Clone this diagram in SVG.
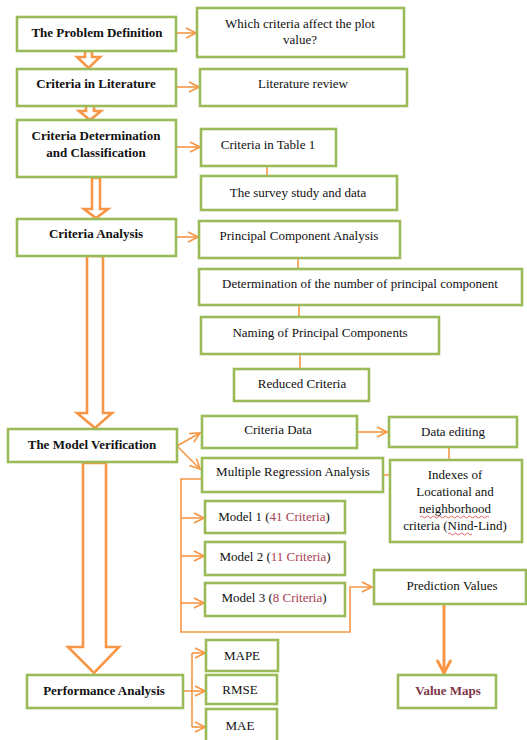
<svg xmlns="http://www.w3.org/2000/svg" width="527" height="740" viewBox="0 0 527 740">
<style>
.box{fill:#fff;stroke:#9bbb59;stroke-width:2.6}
.t{font-family:"Liberation Serif","Times New Roman",serif;font-size:13px;fill:#111;text-anchor:middle}
.b{font-weight:bold}
.red{fill:#a8434f}
.ln{fill:none;stroke:#f79646;stroke-width:1.6}
.blk{fill:#fff;stroke:#f79646;stroke-width:2.6;stroke-linejoin:miter}
</style>
<defs>
<marker id="ah" viewBox="0 0 12 12" markerWidth="12" markerHeight="12" markerUnits="userSpaceOnUse" refX="11" refY="6" orient="auto">
<path d="M1,1 L11,6 L1,11" fill="none" stroke="#f79646" stroke-width="1.6"/>
</marker>
<marker id="ahb" viewBox="0 0 16 16" markerWidth="16" markerHeight="16" markerUnits="userSpaceOnUse" refX="14" refY="8" orient="auto">
<path d="M1,1 L14,8 L1,15" fill="none" stroke="#f79646" stroke-width="3"/>
</marker>
</defs>

<g id="connectors">
<path class="blk" d="M85,51 L92,51 L92,57 L100,57 L88.5,68 L77,57 L85,57 Z"/>
<path class="blk" d="M86,105 L94,105 L94,111 L101,111 L90,120 L79,111 L86,111 Z"/>
<path class="blk" d="M92,178 L100,178 L100,209 L108,209 L96,218 L84,209 L92,209 Z"/>
<path class="blk" d="M87,256 L103,256 L103,413 L112,413 L95,428 L77,413 L87,413 Z"/>
<path class="blk" d="M83,463 L106,463 L106,647 L119,647 L94,673 L68,647 L83,647 Z"/>
<line class="ln" x1="176" y1="33" x2="196" y2="33" marker-end="url(#ah)"/>
<line class="ln" x1="176" y1="87" x2="199" y2="87" marker-end="url(#ah)"/>
<line class="ln" x1="176" y1="147" x2="200" y2="147" marker-end="url(#ah)"/>
<line class="ln" x1="176" y1="237" x2="198" y2="237" marker-end="url(#ah)"/>
<line class="ln" x1="267" y1="166" x2="267" y2="176"/>
<line class="ln" x1="298" y1="258" x2="298" y2="269"/>
<line class="ln" x1="299" y1="305" x2="299" y2="317"/>
<line class="ln" x1="300" y1="354" x2="300" y2="369"/>
<line class="ln" x1="177" y1="446" x2="200" y2="433" marker-end="url(#ah)"/>
<line class="ln" x1="177" y1="446" x2="200" y2="469" marker-end="url(#ah)"/>
<line class="ln" x1="357" y1="432" x2="387" y2="432" marker-end="url(#ah)"/>
<line class="ln" x1="449" y1="447" x2="449" y2="460"/>
<line class="ln" x1="383" y1="475" x2="390" y2="475"/>
<path class="ln" d="M202,479 L181,479 L181,632 L350,632 L350,587 L372,587" marker-end="url(#ah)"/>
<line class="ln" x1="181" y1="518" x2="204" y2="518" marker-end="url(#ah)"/>
<line class="ln" x1="181" y1="556" x2="204" y2="556" marker-end="url(#ah)"/>
<line class="ln" x1="181" y1="603" x2="204" y2="603" marker-end="url(#ah)"/>
<line x1="444" y1="604" x2="444" y2="673" stroke="#f79646" stroke-width="3" marker-end="url(#ahb)"/>
<line class="ln" x1="183" y1="691" x2="192" y2="691"/>
<path class="ln" d="M192,653 L192,727"/>
<line class="ln" x1="192" y1="653" x2="205" y2="653" marker-end="url(#ah)"/>
<line class="ln" x1="192" y1="691" x2="205" y2="691" marker-end="url(#ah)"/>
<line class="ln" x1="192" y1="727" x2="205" y2="727" marker-end="url(#ah)"/>
</g>

<g id="problem-definition"><rect class="box" x="17" y="17" width="159" height="34"/><text class="t b" x="97" y="37">The Problem Definition</text></g>
<g id="which-criteria"><rect class="box" x="197" y="8" width="207" height="49"/><text class="t" x="300" y="28">Which criteria affect the plot</text><text class="t" x="300" y="44">value?</text></g>
<g id="criteria-literature"><rect class="box" x="17" y="69" width="159" height="37"/><text class="t b" x="96" y="88">Criteria in Literature</text></g>
<g id="literature-review"><rect class="box" x="200" y="69" width="207" height="37"/><text class="t" x="303" y="88">Literature review</text></g>
<g id="criteria-determination"><rect class="box" x="17" y="120" width="159" height="57"/><text class="t b" x="96" y="140">Criteria Determination</text><text class="t b" x="96" y="157">and Classification</text></g>
<g id="criteria-table"><rect class="box" x="201" y="129" width="135" height="37"/><text class="t" x="268" y="149">Criteria in Table 1</text></g>
<g id="survey"><rect class="box" x="201" y="176" width="196" height="34"/><text class="t" x="298" y="197">The survey study and data</text></g>
<g id="criteria-analysis"><rect class="box" x="17" y="219" width="159" height="37"/><text class="t b" x="96" y="238">Criteria Analysis</text></g>
<g id="pca"><rect class="box" x="199" y="221" width="201" height="37"/><text class="t" x="299" y="240">Principal Component Analysis</text></g>
<g id="determination"><rect class="box" x="199" y="269" width="323" height="36"/><text class="t" x="360" y="288">Determination of the number of principal component</text></g>
<g id="naming"><rect class="box" x="201" y="317" width="238" height="37"/><text class="t" x="320" y="337">Naming of Principal Components</text></g>
<g id="reduced"><rect class="box" x="234" y="369" width="135" height="32"/><text class="t" x="302" y="388">Reduced Criteria</text></g>
<g id="model-verification"><rect class="box" x="8" y="429" width="169" height="33"/><text class="t b" x="92" y="449">The Model Verification</text></g>
<g id="criteria-data"><rect class="box" x="202" y="416" width="155" height="32"/><text class="t" x="278" y="434">Criteria Data</text></g>
<g id="data-editing"><rect class="box" x="389" y="417" width="128" height="30"/><text class="t" x="453" y="436">Data editing</text></g>
<g id="multiple-regression"><rect class="box" x="202" y="458" width="181" height="34"/><text class="t" x="293" y="476">Multiple Regression Analysis</text></g>
<g id="indexes"><rect class="box" x="390" y="460" width="132" height="82"/><text class="t" x="455" y="479">Indexes of</text><text class="t" x="455" y="496">Locational and</text><text class="t" x="455" y="513">neighborhood</text><text class="t" x="455" y="530">criteria (Nind-Lind)</text>
<path d="M420,517 q1.5,-2 3,0 t3,0 t3,0 t3,0 t3,0 t3,0 t3,0 t3,0 t3,0 t3,0 t3,0 t3,0 t3,0 t3,0 t3,0 t3,0 t3,0 t3,0 t3,0 t3,0 t3,0 t3,0 t3,0" fill="none" stroke="#e0403a" stroke-width="0.8"/>
<path d="M448,534 q1.5,-2 3,0 t3,0 t3,0 t3,0 t3,0 t3,0 t3,0 t3,0" fill="none" stroke="#e0403a" stroke-width="0.8"/>
</g>
<g id="model1"><rect class="box" x="205" y="501" width="140" height="32"/><text class="t" x="274" y="521">Model 1 (<tspan class="red">41 Criteria</tspan>)</text></g>
<g id="model2"><rect class="box" x="205" y="542" width="140" height="33"/><text class="t" x="275" y="561">Model 2 (<tspan class="red">11 Criteria</tspan>)</text></g>
<g id="model3"><rect class="box" x="205" y="583" width="140" height="33"/><text class="t" x="274" y="602">Model 3 (<tspan class="red">8 Criteria</tspan>)</text></g>
<g id="prediction"><rect class="box" x="374" y="570" width="152" height="34"/><text class="t" x="452" y="590">Prediction Values</text></g>
<g id="value-maps"><rect class="box" x="398" y="675" width="98" height="33"/><text class="t b" x="448" y="695" style="fill:#7e3648">Value Maps</text></g>
<g id="performance"><rect class="box" x="27" y="675" width="156" height="33"/><text class="t b" x="104" y="695">Performance Analysis</text></g>
<g id="mape"><rect class="box" x="206" y="640" width="72" height="31"/><text class="t" x="242" y="660">MAPE</text></g>
<g id="rmse"><rect class="box" x="206" y="675" width="71" height="29"/><text class="t" x="240" y="694">RMSE</text></g>
<g id="mae"><rect class="box" x="206" y="709" width="71" height="34"/><text class="t" x="240" y="730">MAE</text></g>
</svg>
